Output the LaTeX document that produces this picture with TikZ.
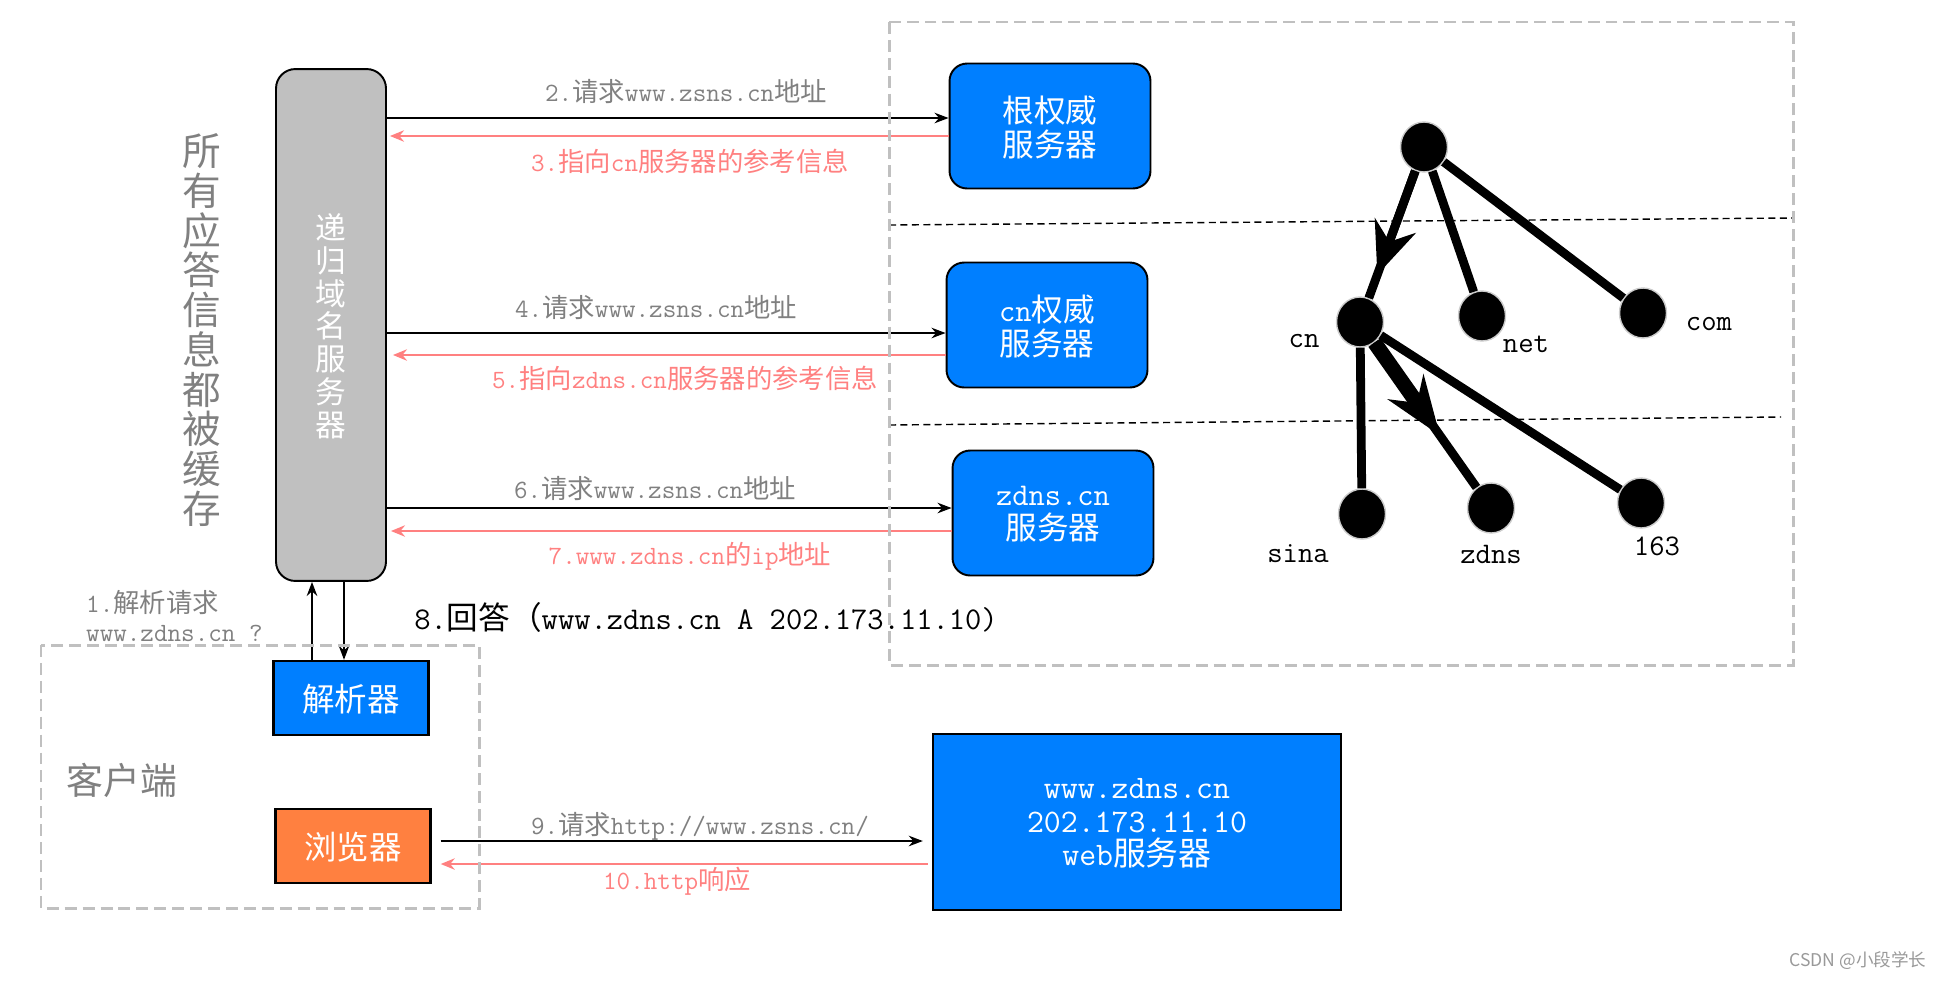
\documentclass[tikz,border=0pt]{standalone}
\usepackage{fontspec}
\renewcommand{\familydefault}{\ttdefault}
\newfontfamily\cjk{Noto Sans CJK SC}
\definecolor{boxblue}{HTML}{007FFF}
\definecolor{boxorange}{HTML}{FF8040}
\definecolor{boxgray}{HTML}{C0C0C0}
\definecolor{framegray}{HTML}{C0C0C0}
\definecolor{txtgray}{HTML}{808080}
\definecolor{replypink}{HTML}{FF8080}
\usetikzlibrary{arrows.meta,positioning,shapes.geometric,calc}

\begin{document}
\begin{tikzpicture}[x=0.02cm, y=-0.02cm,
  srv/.style={rectangle, draw=black, line width=1.1pt, fill=boxblue,
    text=white, rounded corners=10pt, minimum width=4.02cm,
    minimum height=2.5cm, align=center, text depth=-5pt,
    font=\fontsize{18pt}{19.5pt}\selectfont},
  webbox/.style={srv, sharp corners, line width=1.4pt,
    minimum width=8.16cm, minimum height=3.52cm,
    font=\fontsize{18.7pt}{19pt}\selectfont},
  recbox/.style={rectangle, draw=black, line width=1.1pt, fill=boxgray,
    text=white, rounded corners=11pt, minimum width=2.2cm,
    minimum height=10.24cm, align=center, text depth=-2.5pt,
    font=\cjk\fontsize{17.5pt}{18.6pt}\selectfont},
  clibox/.style={rectangle, draw=black, line width=1.4pt, text=white,
    minimum width=3.1cm, minimum height=1.48cm, text depth=-4pt,
    font=\cjk\fontsize{18.5pt}{20pt}\selectfont},
  req/.style={-{Stealth[length=8pt,width=6pt]}, line width=1.1pt},
  rsp/.style={-{Stealth[length=8pt,width=6.5pt]}, line width=1.1pt, replypink},
  lbl/.style={font=\fontsize{15pt}{16pt}\selectfont, text=txtgray},
  lblpink/.style={lbl, text=replypink},
  dashframe/.style={draw=framegray, line width=1.7pt,
    dash pattern=on 6.8pt off 3.4pt},
  zoneline/.style={line width=0.8pt, dash pattern=on 4pt off 2.5pt},
  tnode/.style={ellipse, fill=black, draw=black!20, line width=0.8pt,
    minimum width=0.94cm, minimum height=1cm, inner sep=0pt},
  branch/.style={line width=5pt},
  treelbl/.style={font=\fontsize{17pt}{18pt}\selectfont}
]
  \useasboundingbox (0,0) rectangle (1942,981);

  % servers
  \node[recbox] (rec) at (331,325) {递\\归\\域\\名\\服\\务\\器};
  \node[srv] (rootsrv) at (1050,126) {{\cjk 根权威}\\{\cjk 服务器}};
  \node[srv] (cnsrv) at (1047,325) {cn{\cjk 权威}\\{\cjk 服务器}};
  \node[srv, text depth=-4pt] (zdnssrv) at (1053,513) {zdns.cn\\{\cjk 服务器}};
  \node[webbox] (web) at (1137,822) {www.zdns.cn\\202.173.11.10\\web{\cjk 服务器}};

  % client side
  \node[clibox, fill=boxblue] (res) at (351,698) {解析器};
  \node[clibox, fill=boxorange] (brw) at (353,846) {浏览器};
  \node[font=\cjk\fontsize{21pt}{21pt}\selectfont, text=txtgray] (client) at (122,780) {客户端};
  \node[font=\cjk\fontsize{22pt}{22.6pt}\selectfont, text=txtgray, align=center] (cache) at (202,330)
    {所\\有\\应\\答\\信\\息\\都\\被\\缓\\存};

  % query / reply arrows
  \draw[req] (rec.east |- 0,118) -- (rootsrv.west |- 0,118);
  \draw[rsp, shorten >=0.06cm] (rootsrv.west |- 0,136) -- (rec.east |- 0,136);
  \draw[req] (rec.east |- 0,333) -- (cnsrv.west |- 0,333);
  \draw[rsp, shorten >=0.12cm] (cnsrv.west |- 0,355) -- (rec.east |- 0,355);
  \draw[req] (rec.east |- 0,508) -- (zdnssrv.west |- 0,508);
  \draw[rsp, shorten >=0.08cm] (zdnssrv.west |- 0,531) -- (rec.east |- 0,531);
  \draw[req] (res.north -| 312,0) -- (rec.south -| 312,0);
  \draw[req] (rec.south -| 344,0) -- (res.north -| 344,0);
  \draw[req, shorten <=0.18cm, shorten >=0.18cm] (brw.east |- 0,841) -- (web.west |- 0,841);
  \draw[rsp, shorten <=0.08cm, shorten >=0.18cm] (web.west |- 0,864) -- (brw.east |- 0,864);

  \node[lbl] (l2) at (686,92) {2.{\cjk 请求}www.zsns.cn{\cjk 地址}};
  \node[lblpink] (l3) at (690,161) {3.{\cjk 指向}cn{\cjk 服务器的参考信息}};
  \node[lbl] (l4) at (656,308) {4.{\cjk 请求}www.zsns.cn{\cjk 地址}};
  \node[lblpink] (l5) at (685,378) {5.{\cjk 指向}zdns.cn{\cjk 服务器的参考信息}};
  \node[lbl] (l6) at (655,488) {6.{\cjk 请求}www.zsns.cn{\cjk 地址}};
  \node[lblpink] (l7) at (690,556) {7.www.zdns.cn{\cjk 的}ip{\cjk 地址}};
  \node[font=\fontsize{18pt}{18pt}\selectfont] (l8) at (706,617)
    {8.{\cjk 回答（}www.zdns.cn A 202.173.11.10)};
  \node[lbl, align=left, anchor=west] (l1) at (80,616) {1.{\cjk 解析请求}\\www.zdns.cn ?};
  \node[lbl] (l9) at (700,826) {9.{\cjk 请求}http://www.zsns.cn/};
  \node[lblpink] (l10) at (677,881) {10.http{\cjk 响应}};

  % domain tree
  \node[tnode] (dnsroot) at (1424,147) {};
  \node[tnode] (cn) at (1360,322) {};
  \node[tnode] (net) at (1482,316) {};
  \node[tnode] (com) at (1643,313) {};
  \node[tnode] (sina) at (1362,514) {};
  \node[tnode] (zdns) at (1491,508) {};
  \node[tnode] (n163) at (1641,503) {};
  \draw[branch] (dnsroot) -- (cn);
  \draw[branch] (dnsroot) -- (net);
  \draw[branch] (dnsroot) -- (com);
  \draw[branch] (cn) -- (sina);
  \draw[branch] (cn) -- (zdns);
  \draw[branch] (cn) -- (n163);
  \draw[branch, -{Stealth[length=1.04cm,width=0.86cm]}] (dnsroot) -- ($(dnsroot)!0.73!(cn)$);
  \draw[branch, line width=8.5pt, -{Stealth[length=1.18cm,width=0.86cm]}] (cn) -- ($(cn)!0.61!(zdns)$);
  \node[treelbl] (lcn) at (1304,341) {cn};
  \node[treelbl] (lnet) at (1526,344) {net};
  \node[treelbl] (lcom) at (1709,324) {com};
  \node[treelbl] (lsina) at (1298,554) {sina};
  \node[treelbl] (lzdns) at (1491,554) {zdns};
  \node[treelbl] (l163) at (1657,546) {163};

  % zones
  \draw[zoneline] (889,225) -- (1793,218);
  \draw[zoneline] (889,425) -- (1781,417);
  \draw[dashframe] (889,22) rectangle (1793,665);
  \draw[dashframe] (41,645) rectangle (479,908);

  \node[font=\cjk\fontsize{10pt}{12pt}\selectfont, text=black!40] (mark) at (1858,961) {CSDN @小段学长};
\end{tikzpicture}
\end{document}
